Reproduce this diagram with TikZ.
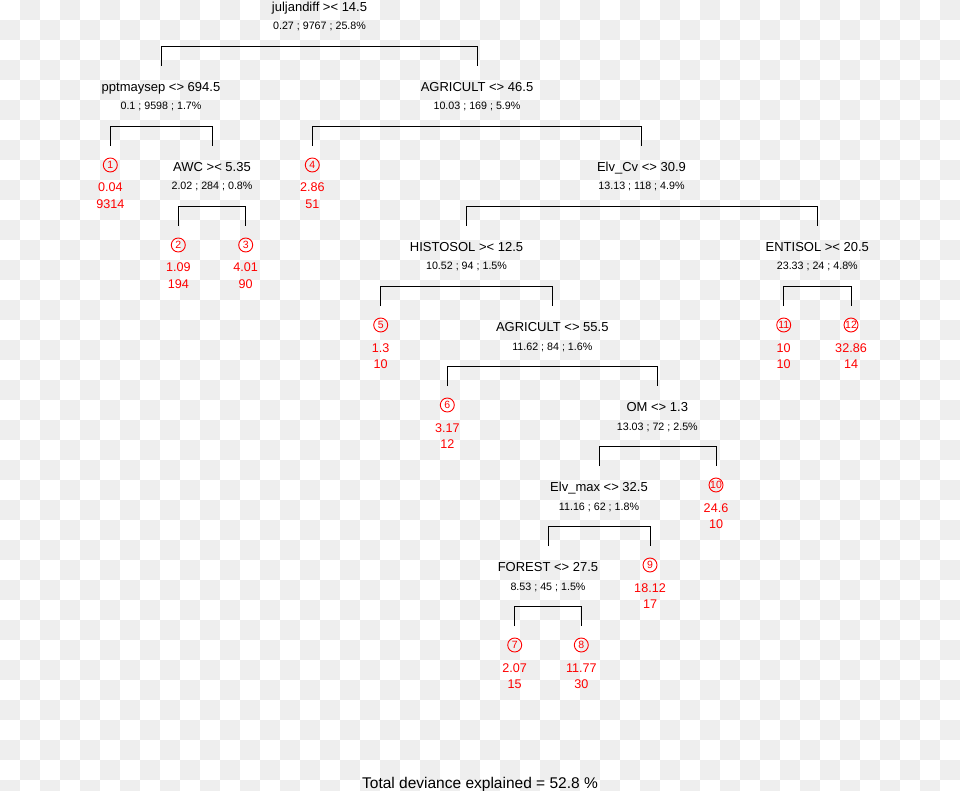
\documentclass[tikz,border=0pt]{standalone}
\usepackage{fontspec}
\setmainfont{Liberation Sans}
\definecolor{bgg}{HTML}{EEEEEE}
\definecolor{leafred}{HTML}{FF0000}
\tikzset{
  lab/.style={font=\fontsize{13}{15}\selectfont, inner sep=0pt, anchor=base},
  stat/.style={font=\fontsize{10.7}{12}\selectfont, inner sep=0pt, anchor=base},
  val/.style={font=\fontsize{12.6}{14}\selectfont, text=leafred, inner sep=0pt, anchor=base},
  num/.style={font=\fontsize{10.5}{11}\selectfont, text=leafred, inner sep=0pt, anchor=center},
  ring/.style={draw=leafred, line width=0.9pt},
  br/.style={line width=1pt, draw=black},
}
\newcommand\tnode[5]{%
  \node[lab] (#1) at (#2,#3+4.7) {#4};
  \node[stat] (#1s) at (#2,#3+23) {#5};
  \coordinate (#1t) at (#2,#3-21);
  \coordinate (#1h) at (#2,#3+39.5);}
\newcommand\tleaf[6]{%
  \node[num] (#1) at (#2,#3-2) {#4};
  \draw[ring] (#1.center) circle[radius=7];
  \node[val] (#1v) at (#2,#3+25) {#5};
  \node[val] (#1n) at (#2,#3+41.5) {#6};
  \coordinate (#1t) at (#2,#3-21);}
\newcommand\tbrk[3]{\draw[br] (#2t) |- (#1h) -| (#3t);}
\begin{document}
\begin{tikzpicture}[x=1pt,y=-1pt]
\useasboundingbox (0,0) rectangle (960,791);
\begin{scope}
\clip (0,0) rectangle (960,791);
\fill[white] (0,0) rectangle (960,791);
\foreach \j in {0,...,39}{
  \foreach \i in {0,...,47}{
    \pgfmathtruncatemacro\p{mod(\i+\j,2)}
    \ifnum\p=1 \fill[bgg] (\i*20,\j*20) rectangle ++(20,20);\fi
  }
}
\end{scope}
% internal nodes
\tnode{R}{319.5}{7}{juljandiff >< 14.5}{0.27 ; 9767 ; 25.8\%}
\tnode{P}{161}{87}{pptmaysep <> 694.5}{0.1 ; 9598 ; 1.7\%}
\tnode{A}{477}{87}{AGRICULT <> 46.5}{10.03 ; 169 ; 5.9\%}
\tnode{W}{212}{167}{AWC >< 5.35}{2.02 ; 284 ; 0.8\%}
\tnode{C}{641.5}{167}{Elv\_Cv <> 30.9}{13.13 ; 118 ; 4.9\%}
\tnode{H}{466.5}{247}{HISTOSOL >< 12.5}{10.52 ; 94 ; 1.5\%}
\tnode{E}{817.3}{247}{ENTISOL >< 20.5}{23.33 ; 24 ; 4.8\%}
\tnode{G}{552.3}{327}{AGRICULT <> 55.5}{11.62 ; 84 ; 1.6\%}
\tnode{O}{657.3}{407}{OM <> 1.3}{13.03 ; 72 ; 2.5\%}
\tnode{M}{599}{487}{Elv\_max <> 32.5}{11.16 ; 62 ; 1.8\%}
\tnode{F}{548}{567}{FOREST <> 27.5}{8.53 ; 45 ; 1.5\%}
% leaves
\tleaf{L1}{110.3}{167}{1}{0.04}{9314}
\tleaf{L2}{178.3}{247}{2}{1.09}{194}
\tleaf{L3}{245.7}{247}{3}{4.01}{90}
\tleaf{L4}{312.3}{167}{4}{2.86}{51}
\tleaf{L5}{380.7}{327}{5}{1.3}{10}
\tleaf{L6}{447.3}{407}{6}{3.17}{12}
\tleaf{L7}{514.7}{647}{7}{2.07}{15}
\tleaf{L8}{581.3}{647}{8}{11.77}{30}
\tleaf{L9}{650}{567}{9}{18.12}{17}
\tleaf{L10}{716}{487}{10}{24.6}{10}
\tleaf{L11}{783.7}{327}{11}{10}{10}
\tleaf{L12}{851}{327}{12}{32.86}{14}
% brackets
\tbrk{R}{P}{A}
\tbrk{P}{L1}{W}
\tbrk{W}{L2}{L3}
\tbrk{A}{L4}{C}
\tbrk{C}{H}{E}
\tbrk{H}{L5}{G}
\tbrk{E}{L11}{L12}
\tbrk{G}{L6}{O}
\tbrk{O}{M}{L10}
\tbrk{M}{F}{L9}
\tbrk{F}{L7}{L8}
\node[font=\fontsize{15.5}{17}\selectfont, inner sep=0pt, anchor=base] (T) at (480,788) {Total deviance explained = 52.8 \%};
\end{tikzpicture}
\end{document}
